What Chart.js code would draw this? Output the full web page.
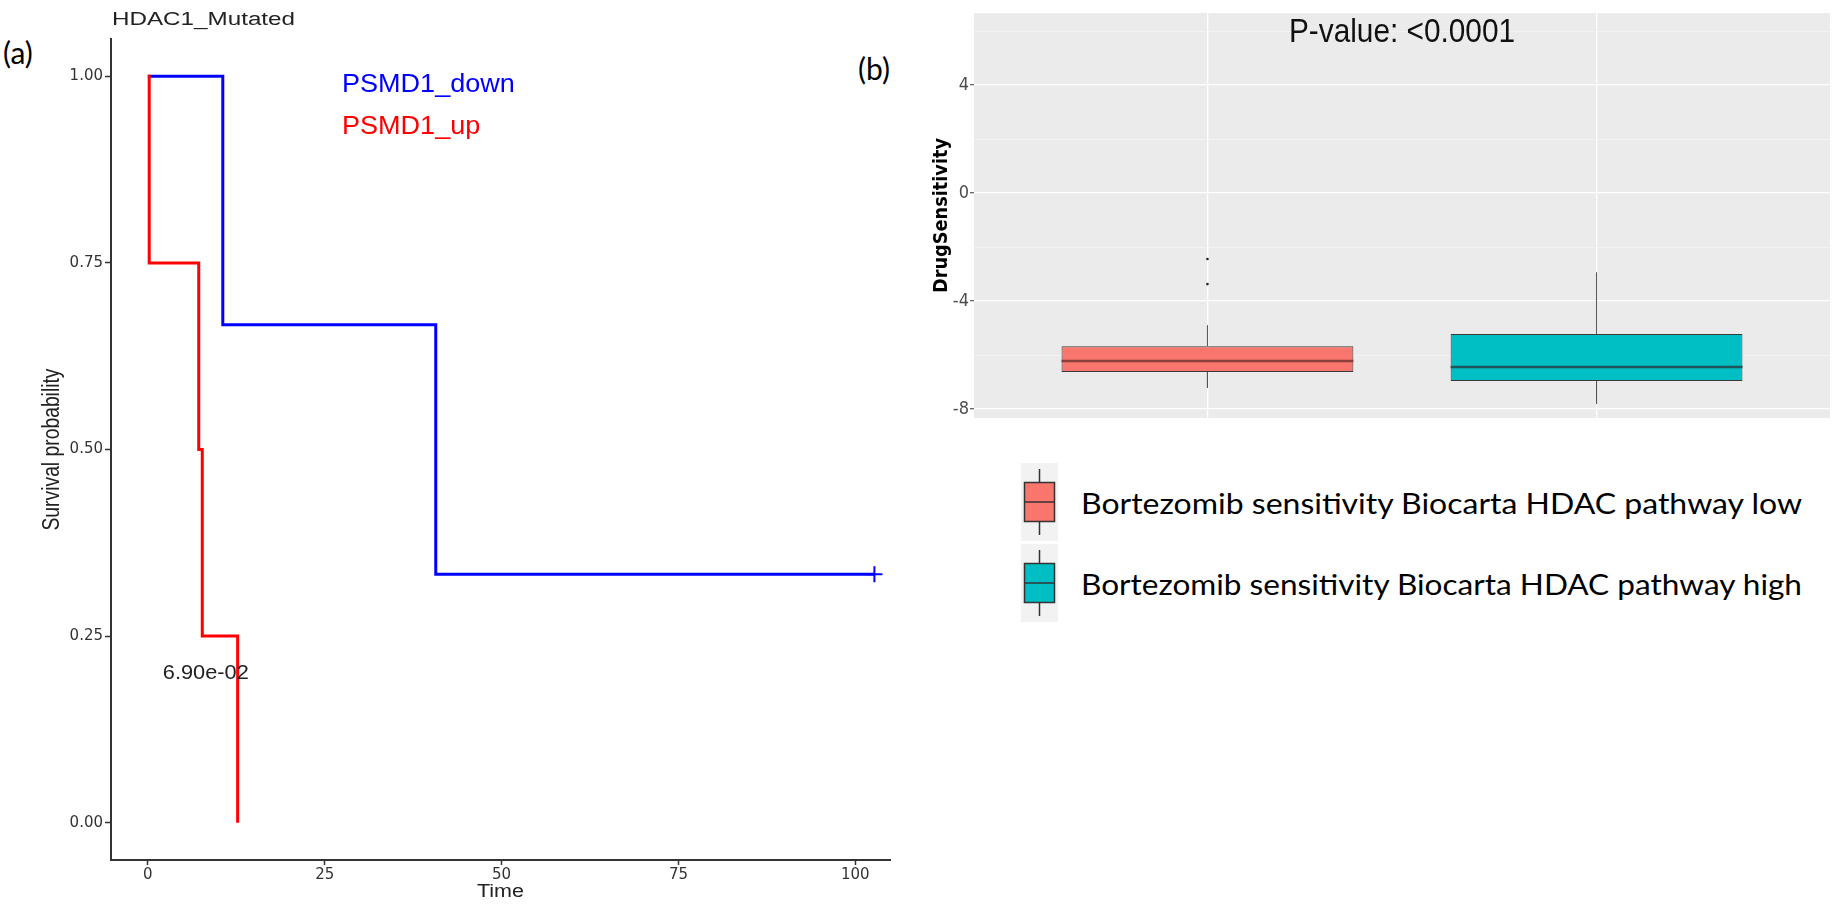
<!DOCTYPE html>
<html>
<head>
<meta charset="utf-8">
<script src="https://cdn.jsdelivr.net/npm/chart.js@4.4.1/dist/chart.umd.min.js"></script>
<style>
  body { margin:0; background:#fff; width:1847px; height:910px; position:relative; overflow:hidden; font-family: Lato, 'Open Sans', sans-serif; }
  #survBox { position:absolute; left:0; top:0; width:900px; height:910px; }
  #drugBox { position:absolute; left:900px; top:0; width:947px; height:440px; }
  .tag { position:absolute; font-size:30px; line-height:30px; color:#000; }
  .keyRow { position:absolute; left:1021px; width:800px; height:79px; }
  .keyRow canvas { position:absolute; left:0; top:0; }
  .keyRow span { position:absolute; left:60px; top:0; line-height:79px; font-size:29px; color:#000; white-space:nowrap; transform-origin:left center; }
</style>
</head>
<body>
<div class="tag" style="left:3px;top:37px">(a)</div>
<div class="tag" style="left:858px;top:53px">(b)</div>
<div id="survBox"><canvas id="survChart" width="900" height="910"></canvas></div>
<div id="drugBox"><canvas id="drugChart" width="947" height="440"></canvas></div>
<div class="keyRow" style="top:463px"><canvas id="key0" width="37" height="78"></canvas><span id="lab0" data-w="721"></span></div>
<div class="keyRow" style="top:544px"><canvas id="key1" width="37" height="78"></canvas><span id="lab1" data-w="721"></span></div>
<script>
// (a) Kaplan-Meier, HDAC1 mutated
var downTime = [0, 10.6, 40.7, 102.7];
var downSurv = [1, 0.667, 0.333, 0.333];
var upTime = [0, 0.2, 7.2, 7.7, 12.7];
var upSurv = [1, 0.75, 0.5, 0.25, 0];
var timeTicks = [0, 25, 50, 75, 100];
var survTicks = [0, 0.25, 0.5, 0.75, 1];
var kmPval = '6.90e-02';
var kmPvalAt = [8.2, 0.2];

// (b) drug sensitivity box plot
var groups = ['Bortezomib sensitivity Biocarta HDAC pathway low', 'Bortezomib sensitivity Biocarta HDAC pathway high'];
var groupColors = ['#F8766D', '#00BFC4'];
var medianColors = ['#8A3F3B', '#1F5558'];
var boxQ1 = [-6.63, -6.96];
var boxMed = [-6.22, -6.44];
var boxQ3 = [-5.67, -5.22];
var whiskLo = [-7.22, -7.81];
var whiskHi = [-4.89, -2.93];
var outliers = [[-2.44, -3.37], []];
var drugTicks = [-8, -6, -4, -2, 0, 2, 4, 6];
var drugPval = 'P-value: <0.0001';

function putText(ctx, txt, x, y, o) {
    ctx.save();
    ctx.font = o.font;
    ctx.fillStyle = o.color || '#222';
    ctx.textAlign = o.align || 'left';
    ctx.textBaseline = 'middle';
    ctx.translate(x, y);
    if (o.rot) ctx.rotate(o.rot);
    var sx = o.sx || 1;
    if (o.w) sx = o.w / ctx.measureText(txt).width;
    ctx.scale(sx, o.sy || 1);
    ctx.fillText(txt, 0, 0);
    ctx.restore();
}

function pts(xs, ys) {
    return xs.map(function (v, i) { return { x: v, y: ys[i] }; });
}

var survText = {
    id: 'survText',
    afterDraw: function (chart) {
        var ctx = chart.ctx, a = chart.chartArea, sc = chart.scales;
        putText(ctx, 'HDAC1_Mutated', 112, 20, { font: '18px "Liberation Sans"', w: 183 });
        putText(ctx, 'PSMD1_down', 342, 85, { font: '26px "Liberation Sans"', color: '#0000FF', sx: 1.04 });
        putText(ctx, 'PSMD1_up', 342, 127, { font: '26px "Liberation Sans"', color: '#FF0000', sx: 1.04 });
        putText(ctx, 'Survival probability', 52, (a.top + a.bottom) / 2, { font: '19px "Liberation Sans"', align: 'center', rot: -Math.PI / 2, w: 162, sy: 1.3 });
        putText(ctx, 'Time', (a.left + a.right) / 2, 892, { font: '18px "Liberation Sans"', align: 'center', w: 47 });
        putText(ctx, kmPval, sc.x.getPixelForValue(kmPvalAt[0]), sc.y.getPixelForValue(kmPvalAt[1]), { font: '20px "Liberation Sans"', align: 'center', w: 86 });
    }
};

var downPts = pts(downTime, downSurv);
new Chart(document.getElementById('survChart'), {
    type: 'line',
    data: {
        datasets: [{
            label: 'PSMD1_up',
            data: pts(upTime, upSurv),
            borderColor: '#FF0000',
            borderWidth: 3,
            stepped: true,
            pointRadius: 0,
            order: 0
        }, {
            label: 'PSMD1_down',
            data: downPts,
            borderColor: '#0000FF',
            backgroundColor: '#0000FF',
            borderWidth: 3,
            stepped: true,
            pointStyle: 'cross',
            pointRadius: downPts.map(function (p, i) { return i === downPts.length - 1 ? 8 : 0; }),
            pointBorderWidth: 2,
            order: 1
        }]
    },
    options: {
        responsive: false,
        devicePixelRatio: 1,
        animation: false,
        layout: { padding: { left: 0, top: 39, right: 7, bottom: 0 } },
        plugins: { legend: { display: false }, tooltip: { enabled: false } },
        scales: {
            x: {
                type: 'linear', min: -5.2, max: 104.9,
                afterBuildTicks: function (ax) { ax.ticks = timeTicks.map(function (v) { return { value: v }; }); },
                afterFit: function (ax) { ax.height = 50; },
                border: { display: true, color: '#333', width: 2 },
                grid: { drawOnChartArea: false, tickLength: 5, tickColor: '#333', tickWidth: 1.5 },
                ticks: { font: { family: 'DejaVu Sans', size: 15 }, color: '#333', padding: 1, maxRotation: 0, autoSkip: false }
            },
            y: {
                type: 'linear', min: -0.05, max: 1.05,
                afterBuildTicks: function (ax) { ax.ticks = survTicks.map(function (v) { return { value: v }; }); },
                afterFit: function (ax) { ax.width = 111; },
                border: { display: true, color: '#333', width: 2 },
                grid: { drawOnChartArea: false, tickLength: 6, tickColor: '#333', tickWidth: 1.5 },
                ticks: { font: { family: 'DejaVu Sans', size: 15 }, color: '#333', padding: 2, callback: function (v) { return Number(v).toFixed(2); } }
            }
        }
    },
    plugins: [survText]
});

// (b)
var panelBg = {
    id: 'panelBg',
    beforeDraw: function (chart) {
        var a = chart.chartArea, ctx = chart.ctx;
        ctx.save();
        ctx.fillStyle = '#EBEBEB';
        ctx.fillRect(a.left, a.top, a.right - a.left, a.bottom - a.top);
        ctx.restore();
    },
    afterDraw: function (chart) {
        var a = chart.chartArea, ctx = chart.ctx;
        putText(ctx, drugPval, (a.left + a.right) / 2, 33, { font: '30px "Liberation Sans"', color: '#111', align: 'center', w: 226, sy: 1.1 });
        putText(ctx, 'DrugSensitivity', 42, (a.top + a.bottom) / 2, { font: 'bold 16px "DejaVu Sans"', color: '#000', align: 'center', rot: -Math.PI / 2, w: 155, sy: 1.25 });
    }
};

var whiskPts = [], medPts = [], outPts = [];
groups.forEach(function (g, i) {
    var x = i + 1;
    whiskPts.push({ x: x, y: boxQ3[i] }, { x: x, y: whiskHi[i] }, { x: x, y: null });
    whiskPts.push({ x: x, y: boxQ1[i] }, { x: x, y: whiskLo[i] }, { x: x, y: null });
    medPts.push({ x: x - 0.375, y: boxMed[i] }, { x: x + 0.375, y: boxMed[i] }, { x: x, y: null });
    outliers[i].forEach(function (v) { outPts.push({ x: x, y: v }); });
});

new Chart(document.getElementById('drugChart'), {
    type: 'bar',
    data: {
        datasets: [{
            type: 'line',
            data: whiskPts,
            borderColor: '#555',
            borderWidth: 1,
            pointRadius: 0,
            spanGaps: false,
            order: 3
        }, {
            type: 'bar',
            data: groups.map(function (g, i) { return { x: i + 1, y: [boxQ1[i], boxQ3[i]] }; }),
            backgroundColor: groupColors,
            borderColor: '#3a3a3a',
            borderWidth: 1,
            borderSkipped: false,
            categoryPercentage: 1,
            barPercentage: 0.75,
            order: 2
        }, {
            type: 'line',
            data: medPts,
            borderColor: '#333',
            segment: { borderColor: function (c) { return medianColors[Math.floor(c.p0DataIndex / 3)]; } },
            borderWidth: 2.5,
            pointRadius: 0,
            spanGaps: false,
            order: 1
        }, {
            type: 'scatter',
            data: outPts,
            backgroundColor: '#222',
            borderWidth: 0,
            pointRadius: 1.3,
            order: 0
        }]
    },
    options: {
        responsive: false,
        devicePixelRatio: 1,
        animation: false,
        layout: { padding: { left: 0, top: 13, right: 17, bottom: 22 } },
        plugins: { legend: { display: false }, tooltip: { enabled: false } },
        scales: {
            x: {
                type: 'linear', min: 0.4, max: 2.6, offset: false,
                afterBuildTicks: function (ax) { ax.ticks = [{ value: 1 }, { value: 2 }]; },
                afterFit: function (ax) { ax.height = 0; },
                border: { display: false },
                grid: { offset: false, color: '#FFFFFF', lineWidth: 1.3, drawTicks: false },
                ticks: { display: false }
            },
            y: {
                type: 'linear', min: -8.33, max: 6.67,
                afterBuildTicks: function (ax) { ax.ticks = drugTicks.map(function (v) { return { value: v }; }); },
                afterFit: function (ax) { ax.width = 74; },
                border: { display: false },
                grid: {
                    color: function (c) { return c.tick.value % 4 === 0 ? '#FFFFFF' : '#F5F5F5'; },
                    lineWidth: function (c) { return c.tick.value % 4 === 0 ? 1.3 : 0.7; },
                    tickColor: function (c) { return c.tick.value % 4 === 0 ? '#666' : 'rgba(0,0,0,0)'; },
                    tickLength: 4
                },
                ticks: {
                    font: { family: "'Liberation Sans Narrow', 'DejaVu Sans Condensed', 'Liberation Sans'", size: 18 },
                    color: '#4D4D4D', padding: 1,
                    callback: function (v) { return v % 4 === 0 ? String(v) : ''; }
                }
            }
        }
    },
    plugins: [panelBg]
});

// legend of (b)
function drawKey(cv, fill) {
    var c = cv.getContext('2d');
    c.fillStyle = '#F2F2F2';
    c.fillRect(0, 0, 37, 78);
    c.strokeStyle = '#333';
    c.lineWidth = 1.5;
    c.beginPath(); c.moveTo(18.5, 6); c.lineTo(18.5, 72); c.stroke();
    c.fillStyle = fill;
    c.fillRect(3.5, 19.5, 30, 39);
    c.strokeRect(3.5, 19.5, 30, 39);
    c.beginPath(); c.moveTo(3.5, 39); c.lineTo(33.5, 39); c.stroke();
}
groups.forEach(function (g, i) {
    drawKey(document.getElementById('key' + i), groupColors[i]);
    document.getElementById('lab' + i).textContent = g;
});
function fitLabels() {
    [0, 1].forEach(function (i) {
        var s = document.getElementById('lab' + i);
        s.style.transform = 'none';
        var w = s.getBoundingClientRect().width;
        s.style.transform = 'scaleX(' + (Number(s.dataset.w) / w) + ')';
    });
}
fitLabels();
if (document.fonts && document.fonts.ready) document.fonts.ready.then(fitLabels);
</script>
</body>
</html>
